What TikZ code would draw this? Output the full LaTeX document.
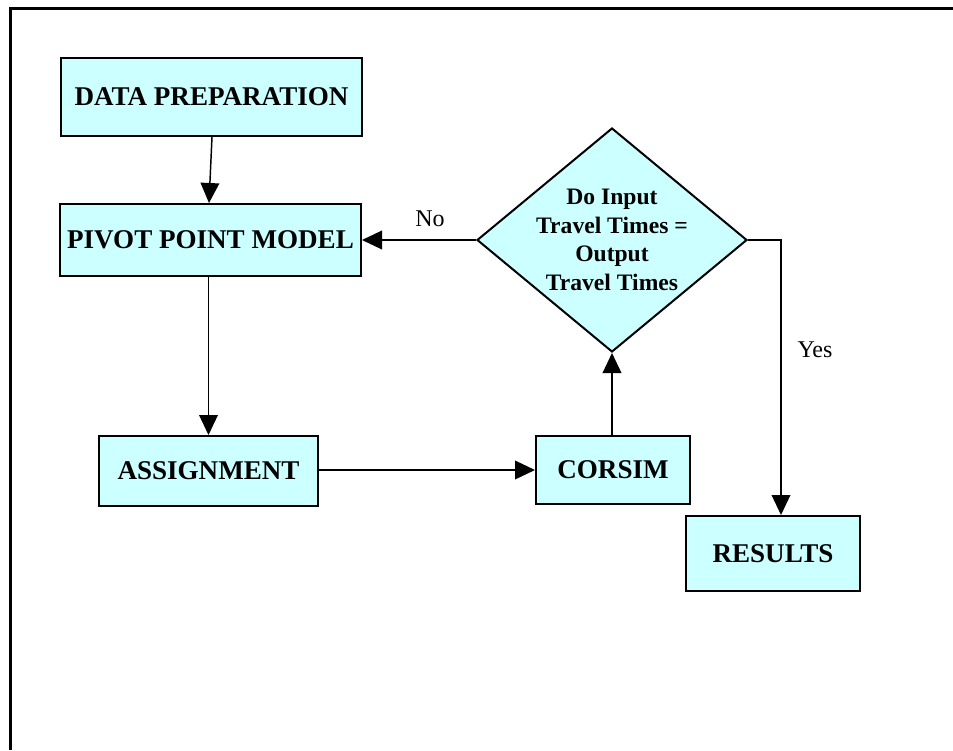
\documentclass[tikz,border=0pt]{standalone}
\usepackage{fontspec}
\setmainfont{Liberation Serif}
\usetikzlibrary{arrows.meta,shapes.geometric,calc}
\definecolor{boxfill}{HTML}{CCFFFF}
\begin{document}
\begin{tikzpicture}[x=0.75pt,y=-0.75pt,
  box/.style={draw=black, line width=1.5pt, fill=boxfill, inner sep=0pt,
    font=\fontsize{20.3}{24}\selectfont\bfseries},
  decision/.style={diamond, draw=black, line width=1.5pt, fill=boxfill, inner sep=0pt,
    minimum width=202.5pt, minimum height=168pt},
  arr/.style={line width=1.1pt, -{Triangle[length=15pt,width=14pt]}},
  lbl/.style={font=\fontsize{18}{22}\selectfont, inner sep=0pt}]
\useasboundingbox (0,0) rectangle (953,750);
% frame
\draw[line width=2.25pt] (10.5,750) -- (10.5,8.5) -- (953,8.5);
% nodes
\node[box, minimum width=225.75pt, minimum height=58.5pt] (dp) at (211.5,97) {DATA PREPARATION};
\node[box, minimum width=225.75pt, minimum height=54pt] (pivot) at (210.5,240) {PIVOT POINT MODEL};
\node[box, minimum width=164.25pt, minimum height=52.5pt] (assign) at (208.5,471) {ASSIGNMENT};
\node[box, minimum width=115.5pt, minimum height=51pt] (corsim) at (613,470) {CORSIM};
\node[box, minimum width=130.5pt, minimum height=56.25pt] (results) at (773,553.5) {RESULTS};
\node[decision] (dec) at (612,240) {};
\node[font=\fontsize{17.7}{21.4}\selectfont\bfseries, align=center, inner sep=0pt] (dectext) at (dec.center) {Do Input\\Travel Times =\\Output\\Travel Times};
\coordinate (yc) at (781,240);
% connectors
\draw[arr] ($(dp.south)+(0.5,0)$) -- ($(pivot.north)+(-1.5,0)$);
\draw[arr] (assign.north |- pivot.south) -- (assign.north);
\draw[arr] (assign.east |- corsim.west) -- (corsim.west);
\draw[arr] (corsim.north -| dec.south) -- (dec.south);
\draw[arr] (dec.west) -- (pivot.east);
\draw[arr] (dec.east) -- (yc) -- (yc |- results.north);
% labels
\node[lbl] (nolbl) at (430,219) {No};
\node[lbl] (yeslbl) at (815,350) {Yes};
\end{tikzpicture}
\end{document}
